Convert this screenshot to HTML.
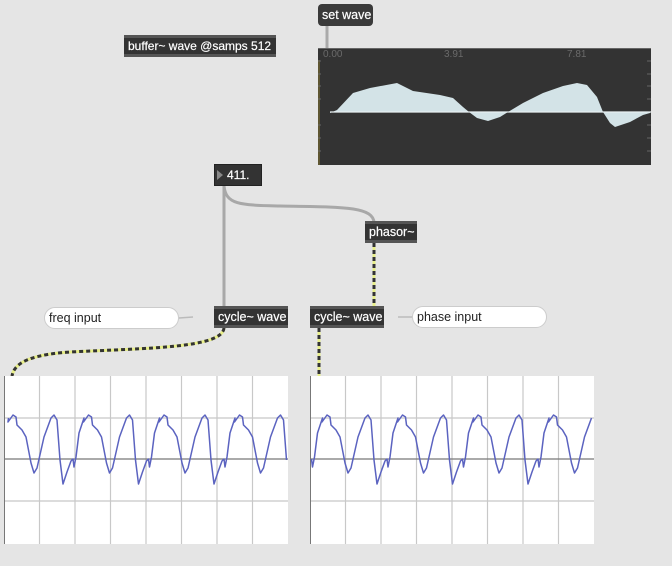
<!DOCTYPE html>
<html><head><meta charset="utf-8"><style>
body{margin:0;width:672px;height:566px;background:#e5e5e5;position:relative;overflow:hidden;font-family:"Liberation Sans",Arial,sans-serif}
.o{position:absolute;background:#333;color:#fff;font-size:12.5px;padding-left:4px;box-sizing:border-box;border-top:3px solid #555;border-bottom:3px solid #555;line-height:16px;white-space:nowrap;font-weight:500;-webkit-text-stroke:0.2px #fff}
.c{position:absolute;background:#fff;border:1.5px solid #ccc;border-radius:11px;font-size:12.5px;line-height:20px;padding-left:4px;box-sizing:border-box;color:#222;white-space:nowrap}
</style></head><body>
<svg width="672" height="566" style="position:absolute;left:0;top:0">
<rect x="318" y="48" width="333" height="117" fill="#333"/>
<rect x="318" y="48" width="333" height="1" fill="#666"/>
<line x1="319" y1="60" x2="319" y2="165" stroke="#8a7a30" stroke-width="1"/>
<polygon fill="#d3e3e7" points="330,112 330,113 337,110 353,93 370,88 397,83 407,88 413,91 440,95 453,98 463,107 469,112 477,118 488,121 500,117 508,112 523,103 543,93 563,86 577,83 587,85 597,97 603,112 610,123 615,127 630,122 643,115 650,113 650,112"/>
<line x1="330" y1="112" x2="651" y2="112" stroke="#e8f0f2" stroke-width="1.2"/>
<g stroke="#666"><line x1="318" y1="61" x2="321" y2="61"/><line x1="318" y1="74" x2="321" y2="74"/><line x1="318" y1="86" x2="321" y2="86"/><line x1="318" y1="99" x2="321" y2="99"/><line x1="318" y1="125" x2="321" y2="125"/><line x1="318" y1="138" x2="321" y2="138"/><line x1="318" y1="151" x2="321" y2="151"/>
<line x1="647" y1="61" x2="651" y2="61"/><line x1="647" y1="74" x2="651" y2="74"/><line x1="647" y1="86" x2="651" y2="86"/><line x1="647" y1="99" x2="651" y2="99"/><line x1="647" y1="125" x2="651" y2="125"/><line x1="647" y1="138" x2="651" y2="138"/><line x1="647" y1="151" x2="651" y2="151"/></g>
<g fill="#6a6a6a" font-size="10" font-family="Liberation Sans,sans-serif"><text x="323" y="57">0.00</text><text x="444" y="57">3.91</text><text x="567" y="57">7.81</text></g>
<line x1="327" y1="26" x2="327" y2="48" stroke="#aaa" stroke-width="3"/>
<line x1="224" y1="186" x2="224" y2="307" stroke="#a8a8a8" stroke-width="3"/>
<path d="M224,186 C226,205 240,205 280,206 C340,207 374,206 374,223" fill="none" stroke="#a8a8a8" stroke-width="3"/>
<line x1="374" y1="243" x2="374" y2="307" stroke="#e8ef8a" stroke-width="3"/>
<line x1="374" y1="243" x2="374" y2="307" stroke="#333" stroke-width="3" stroke-dasharray="4,3"/>
<path d="M224,328 C222,348 150,348 70,352 C25,355 14,365 12,376" fill="none" stroke="#e8ef8a" stroke-width="3"/>
<path d="M224,328 C222,348 150,348 70,352 C25,355 14,365 12,376" fill="none" stroke="#333" stroke-width="3" stroke-dasharray="4,3"/>
<line x1="319" y1="328" x2="319" y2="376" stroke="#e8ef8a" stroke-width="3"/>
<line x1="319" y1="328" x2="319" y2="376" stroke="#333" stroke-width="3" stroke-dasharray="4,3"/>
<line x1="179" y1="318" x2="193" y2="317" stroke="#bbb" stroke-width="1.5"/>
<line x1="398" y1="317" x2="412" y2="317" stroke="#bbb" stroke-width="1.5"/>
<g id="s1"></g>
</svg>
<div class="o" style="left:124px;top:35px;width:152px;height:22px;font-size:12px">buffer~ wave @samps 512</div>
<div class="o" style="left:318px;top:4px;width:55px;height:22px;border:none;border-radius:4px;line-height:22px;background:#3a3a3a">set wave</div>
<div class="o" style="left:214px;top:164px;width:48px;height:22px;border:1px solid #222;line-height:20px;padding-left:12px;font-size:12px"><svg width="7" height="10" style="position:absolute;left:2px;top:5px"><polygon points="0,0 6,5 0,10" fill="#888"/></svg>411.</div>
<div class="o" style="left:365px;top:221px;width:52px;height:22px">phasor~</div>
<div class="o" style="left:214px;top:306px;width:74px;height:22px">cycle~ wave</div>
<div class="o" style="left:310px;top:306px;width:74px;height:22px">cycle~ wave</div>
<div class="c" style="left:44px;top:307px;width:135px;height:22px">freq input</div>
<div class="c" style="left:412px;top:306px;width:135px;height:22px">phase input</div>
<script>
var pts=[[0,422],[5,415],[8,417],[9,425],[14,430],[18,437],[23,463],[26,473],[29,468],[36,437],[43,418],[46,415],[49,420],[52,460],[55,484],[59,472],[63,461],[65,459],[66,467],[68,457],[71,433],[76,418],[80.5,415]];
var P=75.5,ns="http://www.w3.org/2000/svg",g=document.getElementById('s1');
function el(t,a){var e=document.createElementNS(ns,t);for(var k in a)e.setAttribute(k,a[k]);g.appendChild(e);return e;}
function scope(x0,shift){
el('rect',{x:x0,y:376,width:284,height:168,fill:'#fff'});
for(var i=1;i<8;i++)el('line',{x1:x0+i*35.5,y1:376,x2:x0+i*35.5,y2:544,stroke:'#c8c8c8','stroke-width':1.2});
el('line',{x1:x0,y1:418,x2:x0+284,y2:418,stroke:'#c8c8c8','stroke-width':1.2});
el('line',{x1:x0,y1:501,x2:x0+284,y2:501,stroke:'#c8c8c8','stroke-width':1.2});
el('line',{x1:x0,y1:459,x2:x0+284,y2:459,stroke:'#777','stroke-width':1.2});
el('line',{x1:x0+0.5,y1:376,x2:x0+0.5,y2:544,stroke:'#777','stroke-width':1});
var s=[];
for(var k=-1;k<5;k++)for(var j=0;j<pts.length-1;j++){var x=pts[j][0]+k*P+shift;if(x>=0&&x<=284)s.push((x0+x)+','+pts[j][1]);}
el('polyline',{points:s.join(' '),fill:'none',stroke:'#5b63c0','stroke-width':1.5,'stroke-linejoin':'round'});
}
scope(4,4);scope(310,12);
</script>
</body></html>
